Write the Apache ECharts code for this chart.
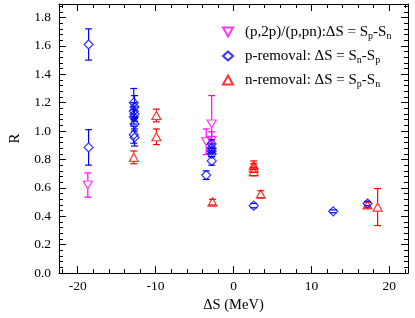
<!DOCTYPE html>
<html>
<head>
<meta charset="utf-8">
<script src="https://cdn.jsdelivr.net/npm/echarts@6/dist/echarts.min.js"></script>
<style>html,body{margin:0;padding:0;background:#fff;}#c{width:415px;height:318px;}</style>
</head>
<body>
<div id="c"></div>
<script>
// (p,2p)/(p,pn) : x, y, error
const magX = [-18.7, -3.5, -2.8, -2.8];
const magY = [0.62, 0.925, 1.05, 0.935];
const magErr = [0.085, 0.09, 0.2, 0.06];

// p-removal
const pX = [-18.6, -18.6, -12.8, -12.7, -12.8, -12.7, -12.8, -12.7, -12.8, -12.7, -3.5, -2.8, -2.8, -2.8, -2.8, -2.8, 2.6, 12.8, 17.2];
const pY = [1.61, 0.885, 1.20, 1.17, 1.14, 1.12, 1.10, 1.05, 0.975, 0.955, 0.69, 0.91, 0.88, 0.86, 0.84, 0.79, 0.475, 0.435, 0.49];
const pErr = [0.11, 0.125, 0.1, 0.08, 0.06, 0.05, 0.05, 0.05, 0.06, 0.06, 0.03, 0.03, 0.03, 0.02, 0.02, 0.03, 0.015, 0.01, 0.015];

// n-removal
const nX = [-12.8, -9.9, -9.9, -2.7, 2.6, 2.6, 2.6, 3.5, 17.2, 18.5];
const nY = [0.815, 1.11, 0.96, 0.50, 0.76, 0.74, 0.715, 0.555, 0.48, 0.465];
const nErr = [0.045, 0.045, 0.055, 0.02, 0.03, 0.03, 0.03, 0.025, 0.02, 0.13];

// ticks
const xMajor = [-20, -10, 0, 10, 20];
const xMinor = [-22, -18, -16, -14, -12, -8, -6, -4, -2, 2, 4, 6, 8, 12, 14, 16, 18, 22];
const yMajor = [0, 0.2, 0.4, 0.6, 0.8, 1.0, 1.2, 1.4, 1.6, 1.8];
const yMinor = [];
yMajor.forEach(v => { for (let k = 1; k <= 4; k++) { const m = +(v + k * 0.04).toFixed(2); if (m < 1.9) yMinor.push(m); } });

const FONT = 'Liberation Serif';
const MAG = '#ff00ff', BLUE = '#0000ff', RED = '#ff0000';
const downTri = 'path://M0,0 L10,0 L5,9 Z';
const upTri = 'path://M5,0 L10,9 L0,9 Z';

function pts(xs, ys, es) { return xs.map((x, i) => [x, ys[i], es[i]]); }

function errSeries(data, color, gap) {
  return {
    type: 'custom', xAxisIndex: 0, yAxisIndex: 0, silent: true, z: 2,
    data: data,
    renderItem: function (params, api) {
      const x = api.value(0), y = api.value(1), e = api.value(2);
      const c = api.coord([x, y]);
      const t = api.coord([x, y + e]);
      const b = api.coord([x, y - e]);
      const cap = 3.5;
      const st = { stroke: color, lineWidth: 1.2 };
      const children = [];
      if (t[1] < c[1] - gap) children.push({ type: 'line', shape: { x1: c[0], y1: t[1], x2: c[0], y2: c[1] - gap }, style: st });
      if (b[1] > c[1] + gap) children.push({ type: 'line', shape: { x1: c[0], y1: c[1] + gap, x2: c[0], y2: b[1] }, style: st });
      children.push({ type: 'line', shape: { x1: c[0] - cap, y1: t[1], x2: c[0] + cap, y2: t[1] }, style: st });
      children.push({ type: 'line', shape: { x1: c[0] - cap, y1: b[1], x2: c[0] + cap, y2: b[1] }, style: st });
      return { type: 'group', children: children };
    }
  };
}

function markSeries(name, data, color, symbol, size) {
  return {
    name: name, type: 'scatter', xAxisIndex: 0, yAxisIndex: 0, z: 3,
    symbol: symbol, symbolSize: size,
    data: data.map(d => [d[0], d[1]]),
    itemStyle: { color: 'rgba(255,255,255,0)', borderColor: color, borderWidth: 1.2 }
  };
}

const magData = pts(magX, magY, magErr);
const pData = pts(pX, pY, pErr);
const nData = pts(nX, nY, nErr);

const legendText = {
  mag: '(p,2p)/(p,pn):ΔS = S{s|p}-S{s|n}',
  p: 'p-removal: ΔS = S{s|n}-S{s|p}',
  n: 'n-removal: ΔS = S{s|p}-S{s|n}'
};

const XMIN = -22.4, XMAX = 22.4, YMIN = 0, YMAX = 1.895;
const lbl = { fontFamily: FONT, fontSize: 13.5, color: '#000' };

function xAx(pos, ticks, len, main) {
  return {
    type: 'value', min: XMIN, max: XMAX, position: pos,
    axisLine: { show: main, onZero: false, lineStyle: { color: '#000', width: 1 } },
    axisTick: { show: true, inside: true, length: len, customValues: ticks, lineStyle: { color: '#000', width: 1 } },
    axisLabel: (pos === 'bottom' && main) ? Object.assign({ show: true, margin: 6, customValues: xMajor }, lbl) : { show: false },
    splitLine: { show: false }, minorTick: { show: false },
    name: (pos === 'bottom' && main) ? 'ΔS (MeV)' : '',
    nameLocation: 'middle', nameGap: 22,
    nameTextStyle: { fontFamily: FONT, fontSize: 14.5, color: '#000' }
  };
}
function yAx(pos, ticks, len, main) {
  return {
    type: 'value', min: YMIN, max: YMAX, position: pos,
    axisLine: { show: main, onZero: false, lineStyle: { color: '#000', width: 1 } },
    axisTick: { show: true, inside: true, length: len, customValues: ticks, lineStyle: { color: '#000', width: 1 } },
    axisLabel: (pos === 'left' && main) ? Object.assign({ show: true, margin: 8, customValues: yMajor, formatter: v => v.toFixed(1) }, lbl) : { show: false },
    splitLine: { show: false }, minorTick: { show: false },
    name: (pos === 'left' && main) ? 'R' : '',
    nameLocation: 'middle', nameGap: 36, nameRotate: 90,
    nameTextStyle: { fontFamily: FONT, fontSize: 15, color: '#000' }
  };
}

const chart = echarts.init(document.getElementById('c'), null, { renderer: 'canvas' });
chart.setOption({
  animation: false,
  backgroundColor: '#fff',
  grid: { left: 52, right: 7, top: 4, bottom: 43, containLabel: false },
  xAxis: [xAx('bottom', xMajor, 7, true), xAx('bottom', xMinor, 4, false), xAx('top', xMajor, 7, true), xAx('top', xMinor, 4, false)],
  yAxis: [yAx('left', yMajor, 7, true), yAx('left', yMinor, 4, false), yAx('right', yMajor, 7, true), yAx('right', yMinor, 4, false)],
  legend: {
    orient: 'vertical', left: 219, top: 20, itemWidth: 10, itemHeight: 9, itemGap: 6, padding: 3,
    data: ['mag', 'p', 'n'],
    formatter: name => legendText[name],
    textStyle: {
      fontFamily: FONT, fontSize: 15, color: '#000', padding: [0, 0, 0, 7], lineHeight: 18,
      rich: { s: { fontFamily: FONT, fontSize: 10, lineHeight: 10, verticalAlign: 'bottom', color: '#000' } }
    }
  },
  series: [
    errSeries(magData, MAG, 4.5),
    errSeries(pData, BLUE, 4.5),
    errSeries(nData, RED, 4.5),
    markSeries('mag', magData, MAG, downTri, [9, 8]),
    markSeries('p', pData, BLUE, 'diamond', [9, 9]),
    markSeries('n', nData, RED, upTri, [9, 8])
  ]
});
</script>
</body>
</html>
